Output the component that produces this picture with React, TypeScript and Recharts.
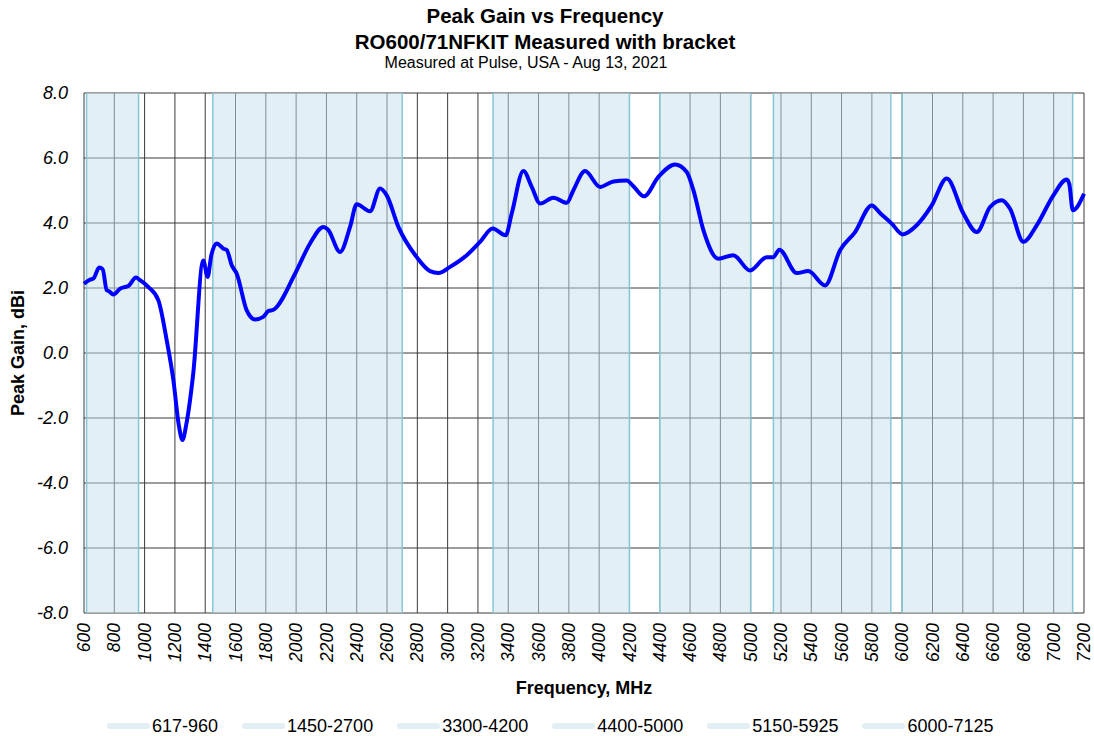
import React from 'react';
import {
  LineChart, Line, XAxis, YAxis, CartesianGrid, ReferenceArea, ReferenceLine,
} from 'recharts';

const freqMHz = [
  600, 640, 662, 700, 723, 750, 765, 794, 838, 871, 893, 943, 970, 1025, 1091,
  1146, 1190, 1225, 1250, 1275, 1321, 1387, 1416, 1440, 1476, 1520, 1542, 1575,
  1608, 1674, 1729, 1783, 1816, 1850, 1993, 2092, 2180, 2210, 2290, 2356, 2400,
  2488, 2554, 2598, 2675, 2796, 2884, 2939, 3016, 3126, 3214, 3297, 3383, 3423,
  3500, 3555, 3610, 3698, 3786, 3830, 3907, 4006, 4094, 4182, 4226, 4296, 4391,
  4501, 4578, 4622, 4688, 4787, 4885, 4996, 5106, 5150, 5189, 5304, 5380, 5491,
  5590, 5689, 5799, 5855, 5931, 6003, 6096, 6195, 6294, 6404, 6492, 6580, 6657,
  6712, 6800, 6888, 6998, 7086, 7103, 7126, 7200,
];

const gainDbi = [
  2.13, 2.26, 2.29, 2.63, 2.58, 1.93, 1.9, 1.8, 1.98, 2.03, 2.06, 2.32, 2.24, 2.03, 1.62,
  0.39, -0.84, -2.2, -2.68, -2.2, -0.63, 2.85, 2.34, 3.0, 3.37, 3.21, 3.17, 2.7,
  2.44, 1.31, 1.03, 1.11, 1.29, 1.33, 2.44, 3.37, 3.88, 3.8, 3.11, 3.88, 4.58,
  4.36, 5.06, 4.85, 3.88, 2.95, 2.52, 2.46, 2.65, 3.01, 3.42, 3.83, 3.62, 4.29,
  5.6, 5.11, 4.6, 4.78, 4.62, 5.01, 5.6, 5.11, 5.28, 5.31, 5.13, 4.82, 5.42,
  5.8, 5.57, 5.01, 3.78, 2.9, 3.01, 2.54, 2.95, 2.95, 3.18, 2.46, 2.52, 2.08,
  3.16, 3.72, 4.54, 4.3, 3.98, 3.65, 3.93, 4.54, 5.37, 4.29, 3.72, 4.49, 4.7,
  4.44, 3.42, 3.93, 4.85, 5.34, 5.2, 4.39, 4.9,
];

const bandStarts = [617, 1450, 3300, 4400, 5150, 6000];
const bandEnds = [960, 2700, 4200, 5000, 5925, 7125];
const bandNames = ['617-960', '1450-2700', '3300-4200', '4400-5000', '5150-5925', '6000-7125'];

const xTicks = [
  600, 800, 1000, 1200, 1400, 1600, 1800, 2000, 2200, 2400, 2600, 2800, 3000, 3200,
  3400, 3600, 3800, 4000, 4200, 4400, 4600, 4800, 5000, 5200, 5400, 5600, 5800,
  6000, 6200, 6400, 6600, 6800, 7000, 7200,
];
const yTicks = [-8, -6, -4, -2, 0, 2, 4, 6, 8];

const data = freqMHz.map((f, i) => ({ f, gain: gainDbi[i] }));

const FONT = '"Liberation Sans", Arial, sans-serif';
const BAND_FILL = '#c5e1eb';
const BAND_EDGE = '#86c6d6';

function XTick({ x, y, payload }: any) {
  return (
    <g transform={`translate(${x},${y + 10}) rotate(-90)`}>
      <text x={0} y={0} dy="0.35em" textAnchor="end" fontSize={17.5} fontStyle="italic" fill="#000" fontFamily={FONT}>
        {payload.value}
      </text>
    </g>
  );
}

function YTick({ x, y, payload }: any) {
  return (
    <text x={x - 16} y={y} dy="0.35em" textAnchor="end" fontSize={18} fontStyle="italic" fill="#000" fontFamily={FONT}>
      {Number(payload.value).toFixed(1)}
    </text>
  );
}

export default function App() {
  return (
    <div style={{ position: 'absolute', left: 0, top: 0, width: 1094, height: 736, background: '#fff', fontFamily: FONT }}>
      <div style={{ position: 'absolute', top: 3, left: 0, width: 1090, textAlign: 'center', fontSize: 20.5, fontWeight: 'bold', lineHeight: '26px' }}>
        Peak Gain vs Frequency
      </div>
      <div style={{ position: 'absolute', top: 29, left: 0, width: 1090, textAlign: 'center', fontSize: 20.5, fontWeight: 'bold', lineHeight: '26px' }}>
        RO600/71NFKIT Measured with bracket
      </div>
      <div style={{ position: 'absolute', top: 54, left: 0, width: 1052, textAlign: 'center', fontSize: 16, lineHeight: '18px' }}>
        Measured at Pulse, USA - Aug 13, 2021
      </div>

      <div style={{ position: 'absolute', left: 0, top: 0 }}>
        <LineChart width={1094} height={736} data={data} margin={{ top: 93, right: 10, bottom: 63, left: 0 }}>
          {bandStarts.map((s, i) => (
            <ReferenceArea key={'a' + i} x1={s} x2={bandEnds[i]} y1={-8} y2={8} fill={BAND_FILL} fillOpacity={0.5} stroke="none" ifOverflow="visible" />
          ))}
          <CartesianGrid stroke="#3a3a3a" strokeWidth={1} horizontalValues={yTicks} verticalValues={xTicks} />
          {bandStarts.map((s, i) => (
            <ReferenceLine key={'s' + i} x={s} stroke={BAND_EDGE} strokeWidth={1.5} />
          ))}
          {bandEnds.map((e, i) => (
            <ReferenceLine key={'e' + i} x={e} stroke={BAND_EDGE} strokeWidth={1.5} />
          ))}
          <XAxis
            dataKey="f"
            type="number"
            domain={[600, 7200]}
            ticks={xTicks}
            interval={0}
            height={60}
            axisLine={false}
            tickLine={false}
            tickSize={0}
            tickMargin={0}
            tick={<XTick />}
          />
          <YAxis
            type="number"
            domain={[-8, 8]}
            ticks={yTicks}
            interval={0}
            width={84}
            axisLine={false}
            tickLine={false}
            tickSize={0}
            tickMargin={0}
            tick={<YTick />}
          />
          <Line
            type="monotone"
            dataKey="gain"
            stroke="#0000ff"
            strokeWidth={4}
            dot={false}
            isAnimationActive={false}
          />
        </LineChart>
      </div>

      <div style={{ position: 'absolute', left: 8, top: 340, width: 20, height: 20 }}>
        <div style={{ position: 'absolute', left: 10, top: 13, transform: 'translate(-50%, -50%) rotate(-90deg)', whiteSpace: 'nowrap', fontSize: 18, fontWeight: 'bold' }}>
          Peak Gain, dBi
        </div>
      </div>

      <div style={{ position: 'absolute', top: 677, left: 84, width: 1000, textAlign: 'center', fontSize: 18, fontWeight: 'bold', lineHeight: '22px' }}>
        Frequency, MHz
      </div>

      <div style={{ position: 'absolute', top: 715, left: 107, display: 'flex', alignItems: 'center', fontSize: 18, lineHeight: '22px' }}>
        {bandNames.map((n) => (
          <div key={n} style={{ display: 'flex', alignItems: 'center', marginRight: 24 }}>
            <div style={{ width: 43, height: 6, borderRadius: 3, background: '#e1eff4' }} />
            <span style={{ marginLeft: 2 }}>{n}</span>
          </div>
        ))}
      </div>
    </div>
  );
}
